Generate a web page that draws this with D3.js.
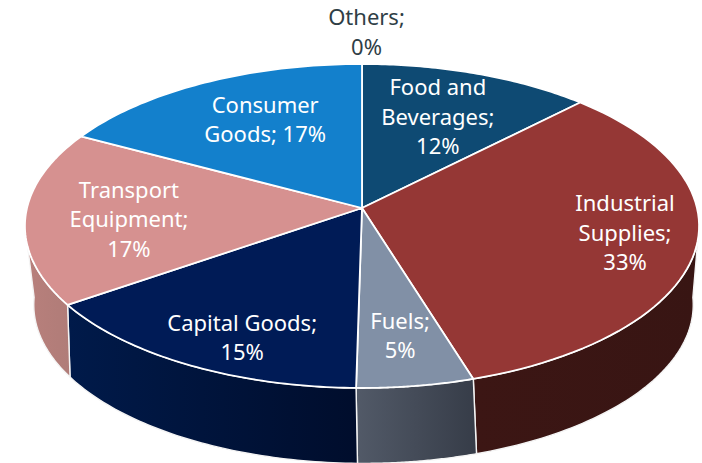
<!DOCTYPE html>
<html><head><meta charset="utf-8">
<script src="https://cdnjs.cloudflare.com/ajax/libs/d3/7.9.0/d3.min.js"></script>
<style>html,body{margin:0;padding:0;background:#fff}svg{display:block}</style></head>
<body><svg id="c" width="702" height="463"></svg>
<script>
// Data (shares read from the slice boundaries; printed labels are the rounded values)
const categories = ["Food and Beverages","Industrial Supplies","Fuels","Capital Goods","Transport Equipment","Consumer Goods","Others"];
const shares = [12.4,32.8,5.05,15.15,17.4,17.2,0];
const labelLines = [["Food and","Beverages;","12%"],["Industrial","Supplies;","33%"],["Fuels;","5%"],["Capital Goods;","15%"],["Transport","Equipment;","17%"],["Consumer","Goods; 17%"],["Others;","0%"]];
// Styles
const topColors = ["#0e4a73","#953735","#8190a6","#001b56","#d69190","#1380cc","#a5a5a5"];
const wallLeft  = ["#0a3350","#3c1614","#525a68","#001a4a","#b8807c","#0d5a90","#777777"];
const wallRight = ["#0a3350","#381513","#363c48","#000d2c","#b07c78","#0d5a90","#777777"];
const labelRadius = [.653,.787,.742,.814,.694,.663,1.25];
const labelTurn = [-.6,-2.4,.1,-4.4,-2.9,3.3,.7];
const labelColor = ["#fff","#fff","#fff","#fff","#fff","#fff","#2f3e46"];

const svg = d3.select("#c");
const cx = 362, cy = 208;
const faceTop = {B:335,A:160,k:.111,y0:cy,x0:cx};
const faceBot = {B:326,A:155,k:.15,y0:281,x0:cx+1.5};
const project = (f,deg,r=1)=>{
  const t = deg*Math.PI/180, u=r*Math.sin(t), v=r*Math.cos(t), d=1+f.k*v;
  return [f.x0+f.B*u/d, f.y0-f.A*v/d];
};
const toDeg = d3.scaleLinear().domain([0,2*Math.PI]).range([0,360]);
const arcs = d3.pie().sort(null).value(d=>d)(shares)
  .map(d=>({startAngle:toDeg(d.startAngle),endAngle:toDeg(d.endAngle)}));
const line = d3.line();
const sweep = (f,a,b)=>d3.range(0,61).map(i=>project(f,a+(b-a)*i/60));

const defs = svg.append("defs");
arcs.forEach((d,i)=>{
  const g = defs.append("linearGradient").attr("id","w"+i);
  g.append("stop").attr("offset","0").attr("stop-color",wallLeft[i]);
  g.append("stop").attr("offset","1").attr("stop-color",wallRight[i]);
});

// side walls, only for the arc facing the viewer
const wallFrom = 96, wallTo = 264;
arcs.forEach((d,i)=>{
  const a = Math.max(d.startAngle,wallFrom), b = Math.min(d.endAngle,wallTo);
  if (b<=a) return;
  const pts = sweep(faceTop,a,b).concat(sweep(faceBot,b,a));
  svg.append("path").attr("d",line(pts)+"Z").attr("fill",`url(#w${i})`)
     .attr("stroke","#f4f4f4").attr("stroke-width",1.4).attr("stroke-linejoin","round");
});

// top face
arcs.forEach((d,i)=>{
  if (d.endAngle-d.startAngle<=0) return;
  const pts = [[cx,cy]].concat(sweep(faceTop,d.startAngle,d.endAngle));
  svg.append("path").attr("d",line(pts)+"Z").attr("fill",topColors[i])
     .attr("stroke","#fff").attr("stroke-width",1.8).attr("stroke-linejoin","round");
});

// labels
const lh = 29.3;
arcs.forEach((d,i)=>{
  const mid = (d.startAngle+d.endAngle)/2 + labelTurn[i];
  const [x,y] = project(faceTop,mid,labelRadius[i]);
  const ls = labelLines[i];
  const t = svg.append("text").attr("text-anchor","middle").attr("fill",labelColor[i])
    .attr("font-family","'Noto Sans',sans-serif").attr("font-size",22);
  ls.forEach((s,j)=>t.append("tspan").attr("x",x)
    .attr("y",y+(j-(ls.length-1)/2)*lh+7.5).text(s));
});
</script></body></html>
